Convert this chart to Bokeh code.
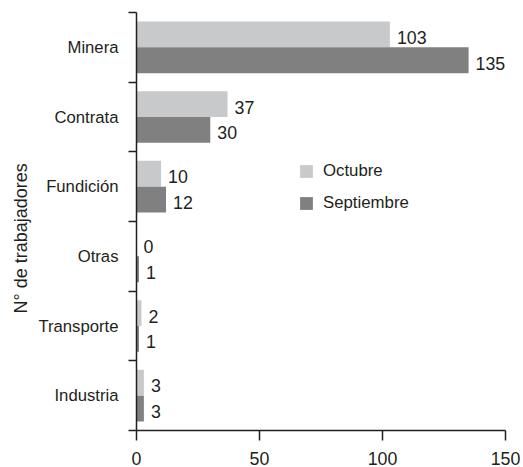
from bokeh.plotting import figure
from bokeh.models import ColumnDataSource, FixedTicker, Legend, LegendItem, LabelSet, Title
from bokeh.core.properties import value
from bokeh.embed import file_html
from bokeh.resources import INLINE

categories = ["Industria", "Transporte", "Otras", "Fundición", "Contrata", "Minera"]
octubre = [3, 2, 0, 10, 37, 103]
septiembre = [3, 1, 1, 12, 30, 135]
x_ticks = [0, 50, 100, 150]
y_title = "N° de trabajadores"

FONT = "Liberation Sans"
TXT = "#231f20"
LIGHT = "#c8c9ca"
DARK = "#808080"
BAR_H = 0.371

centers = [i + 0.5 for i in range(len(categories))]
src_o = ColumnDataSource(dict(y=[c + BAR_H / 2 for c in centers], v=octubre,
                              lab=[str(v) for v in octubre]))
src_s = ColumnDataSource(dict(y=[c - BAR_H / 2 for c in centers], v=septiembre,
                              lab=[str(v) for v in septiembre]))

p = figure(width=520, height=467, x_range=(0, 150), y_range=(0, len(categories)),
           output_backend="svg", toolbar_location=None,
           min_border_left=136, min_border_right=15, min_border_top=12, min_border_bottom=35)
p.outline_line_color = None
p.grid.visible = False
p.background_fill_color = "white"
p.border_fill_color = "white"

r_o = p.hbar(y="y", right="v", left=0, height=BAR_H, source=src_o, fill_color=LIGHT, line_color=None)
r_s = p.hbar(y="y", right="v", left=0, height=BAR_H, source=src_s, fill_color=DARK, line_color=None)

for src in (src_o, src_s):
    p.add_layout(LabelSet(x="v", y="y", text="lab", source=src, x_offset=7, y_offset=-3,
                          text_baseline="middle", text_align="left",
                          text_font=value(FONT), text_font_size="17.8px", text_color=TXT))

# x axis
xa = p.xaxis[0]
xa.ticker = FixedTicker(ticks=x_ticks)
xa.major_tick_in = 0
xa.major_tick_out = 10
xa.minor_tick_line_color = None
xa.axis_line_color = TXT
xa.major_tick_line_color = TXT
xa.axis_line_width = 1.5
xa.major_tick_line_width = 1.5
xa.major_label_text_font = FONT
xa.major_label_text_font_size = "17.8px"
xa.major_label_text_color = TXT
xa.major_label_text_line_height = 0.6
xa.major_label_standoff = 11

# y axis: labels at centers, ticks at boundaries (minor)
ya = p.yaxis[0]
ya.ticker = FixedTicker(ticks=centers, minor_ticks=list(range(len(categories) + 1)))
ya.major_label_overrides = {c: name for c, name in zip(centers, categories)}
ya.major_tick_line_color = None
ya.major_tick_out = 0
ya.major_tick_in = 0
ya.minor_tick_in = 0
ya.minor_tick_out = 8
ya.minor_tick_line_color = TXT
ya.minor_tick_line_width = 1.5
ya.axis_line_color = TXT
ya.axis_line_width = 1.5
ya.major_label_text_font = FONT
ya.major_label_text_font_size = "16.7px"
ya.major_label_text_color = TXT
ya.major_label_standoff = 10

p.add_layout(Title(text=y_title, align="left", offset=117, standoff=10,
                   text_font=FONT, text_font_size="18px", text_font_style="normal",
                   text_color=TXT), "left")

legend = Legend(items=[LegendItem(label="Octubre", renderers=[r_o]),
                       LegendItem(label="Septiembre", renderers=[r_s])],
                location=(162, 217), orientation="vertical",
                glyph_width=16, glyph_height=16, label_height=16, spacing=12,
                label_standoff=9, padding=0, margin=0,
                background_fill_alpha=0, border_line_color=None,
                label_text_font=FONT, label_text_font_size="16.8px", label_text_color=TXT)
p.add_layout(legend, "center")

open("out.html", "w").write(file_html(p, INLINE))
